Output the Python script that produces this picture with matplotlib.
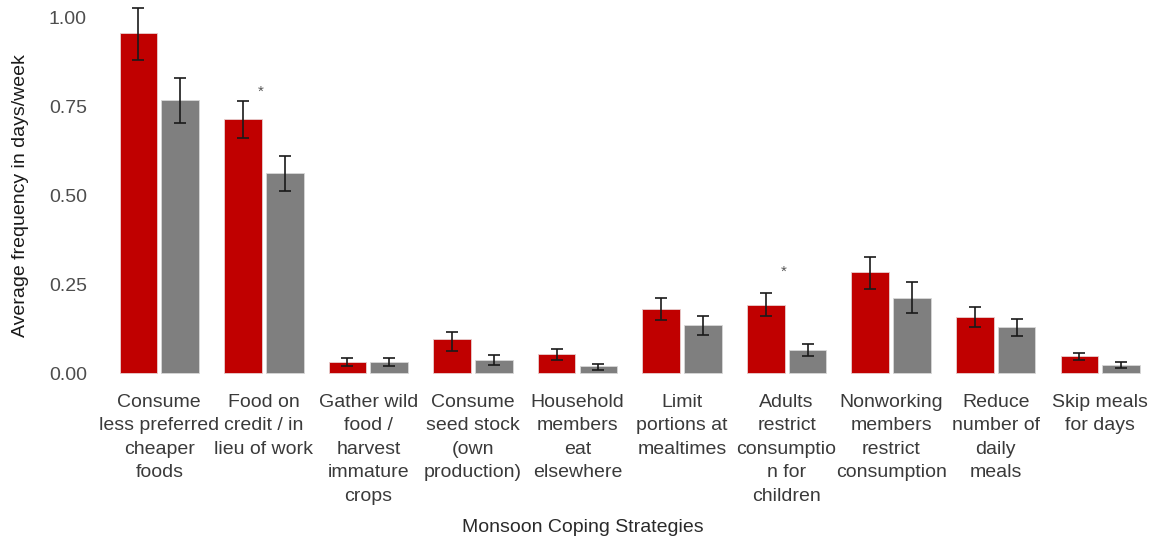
import numpy as np
import matplotlib.pyplot as plt

plt.rcParams['font.family'] = ['Liberation Sans', 'DejaVu Sans']

categories = ["Consume\nless preferred\ncheaper\nfoods",
              "Food on\ncredit / in\nlieu of work",
              "Gather wild\nfood /\nharvest\nimmature\ncrops",
              "Consume\nseed stock\n(own\nproduction)",
              "Household\nmembers\neat\nelsewhere",
              "Limit\nportions at\nmealtimes",
              "Adults\nrestrict\nconsumptio\nn for\nchildren",
              "Nonworking\nmembers\nrestrict\nconsumption",
              "Reduce\nnumber of\ndaily\nmeals",
              "Skip meals\nfor days"]

red_vals = [0.955, 0.713, 0.031, 0.095, 0.053, 0.180, 0.191, 0.284, 0.157, 0.048]
red_lo   = [0.879, 0.660, 0.020, 0.062, 0.037, 0.149, 0.160, 0.236, 0.129, 0.037]
red_hi   = [1.025, 0.764, 0.042, 0.115, 0.067, 0.210, 0.225, 0.326, 0.185, 0.056]

gray_vals = [0.767, 0.562, 0.031, 0.037, 0.020, 0.135, 0.065, 0.211, 0.129, 0.022]
gray_lo   = [0.702, 0.511, 0.020, 0.022, 0.008, 0.107, 0.048, 0.169, 0.104, 0.014]
gray_hi   = [0.829, 0.610, 0.042, 0.051, 0.025, 0.160, 0.081, 0.256, 0.152, 0.031]

# significance markers: (group index, y)
stars = [(1, 0.79), (6, 0.285)]

yticks = [0.0, 0.25, 0.5, 0.75, 1.0]
ytick_labels = ["0.00", "0.25", "0.50", "0.75", "1.00"]

fig = plt.figure(figsize=(11.63, 5.44), dpi=100)
ax = fig.add_axes([0.083, 0.281, 0.917, 0.719])

x = np.arange(len(categories))
w = 0.36
off = 0.2

red_err = [np.array(red_vals) - np.array(red_lo), np.array(red_hi) - np.array(red_vals)]
gray_err = [np.array(gray_vals) - np.array(gray_lo), np.array(gray_hi) - np.array(gray_vals)]

ax.bar(x - off, red_vals, w, color='#C00000', edgecolor='#e8d0d0', linewidth=0.6)
ax.bar(x + off, gray_vals, w, color='#7F7F7F', edgecolor='#d8d8d8', linewidth=0.6)
ax.errorbar(x - off, red_vals, yerr=red_err, fmt='none', ecolor='#1a1a1a',
            elinewidth=1.2, capsize=4, capthick=1.2)
ax.errorbar(x + off, gray_vals, yerr=gray_err, fmt='none', ecolor='#1a1a1a',
            elinewidth=1.2, capsize=4, capthick=1.2)

for gi, sy in stars:
    ax.text(gi - 0.03, sy, '*', ha='center', va='center', fontsize=11, color='#555555')

ax.set_xlim(-0.6, 9.6)
ax.set_ylim(-0.0506, 1.048)
ax.set_yticks(yticks)
ax.set_yticklabels(ytick_labels, fontsize=14, color='#4d4d4d')
ax.set_xticks(x)
ax.set_xticklabels(categories, fontsize=14, color='#3a3a3a', linespacing=1.5, va='top')
ax.tick_params(axis='y', length=0, pad=7)
ax.tick_params(axis='x', length=0, pad=2)
for s in ax.spines.values():
    s.set_visible(False)

ax.set_ylabel("Average frequency in days/week", fontsize=14, color='#1a1a1a', labelpad=14)
fig.text(0.501, 0.031, "Monsoon Coping Strategies", ha='center', va='center',
         fontsize=14, color='#2a2a2a')

fig.savefig('out.png', dpi=100)
